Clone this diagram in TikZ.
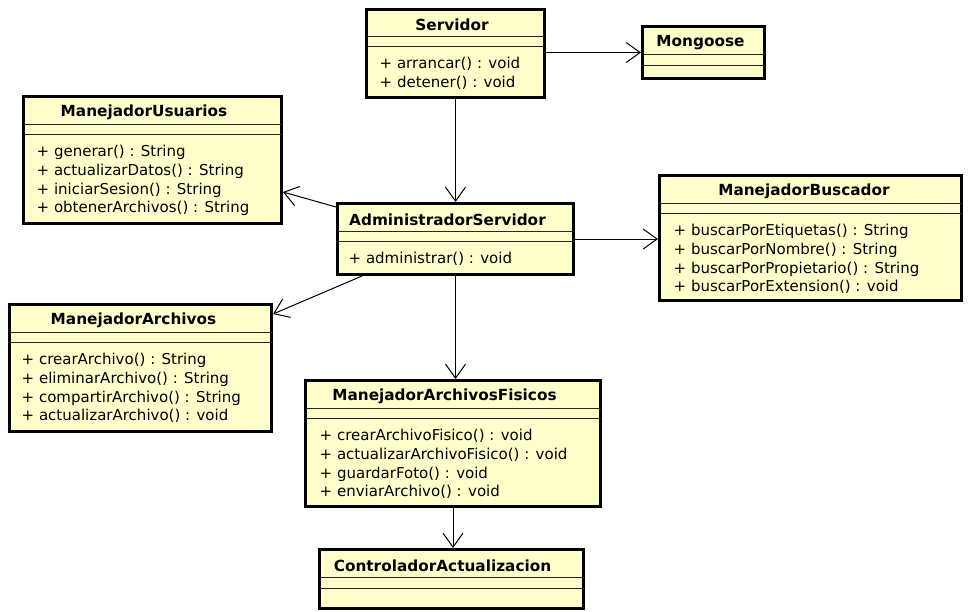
\documentclass[tikz,border=0pt]{standalone}
\usepackage{fontspec}
\setmainfont{DejaVu Sans}
\usetikzlibrary{arrows.meta,calc}
\definecolor{clsfill}{HTML}{FFFFCC}
\tikzset{
  cls/.style={draw=black, line width=3pt, fill=clsfill, inner sep=0pt},
  sepline/.style={draw=black!85, line width=1pt},
  ttl/.style={font=\fontsize{15.3}{18}\selectfont\bfseries, inner sep=0pt, yshift=-2.5pt},
  op/.style={font=\fontsize{15}{18}\selectfont, inner sep=0pt, anchor=mid west, yshift=-3.5pt},
  dep/.style={draw=black, line width=1pt, -{Straight Barb[length=14pt,width=20pt]}},
}
\newcommand\umlbox[7]{%
  \node[cls, minimum width={(#4-#2-3)*1pt}, minimum height={(#5-#3-3)*1pt}] (#1) at ({(#2+#4)/2},{(#3+#5)/2}) {};
  \draw[sepline] ({#2+1.5},#6) -- ({#4-1.5},#6);
  \draw[sepline] ({#2+1.5},#7) -- ({#4-1.5},#7);
}
\begin{document}
\begin{tikzpicture}[x=1pt,y={(0pt,-1pt)}]
\useasboundingbox (0,0) rectangle (972,611);

% Servidor
\umlbox{serv}{365}{8}{546}{99}{36}{46}
\node[ttl] (servT) at (452,22) {Servidor};
\node[op] (servO1) at (379.5,62) {+ arrancar() : void};
\node[op] (servO2) at (379.5,81) {+ detener() : void};

% Mongoose
\umlbox{mong}{641}{25}{766}{80}{54}{65}
\node[ttl] (mongT) at (700.5,40) {Mongoose};

% ManejadorUsuarios
\umlbox{usu}{22}{95}{283}{225}{124}{134}
\node[ttl] (usuT) at (144,110) {ManejadorUsuarios};
\node[op] (usuO1) at (36.5,150) {+ generar() : String};
\node[op] (usuO2) at (36.5,169) {+ actualizarDatos() : String};
\node[op] (usuO3) at (36.5,188) {+ iniciarSesion() : String};
\node[op] (usuO4) at (36.5,206) {+ obtenerArchivos() : String};

% AdministradorServidor
\umlbox{admin}{336}{202}{575}{276}{231}{241}
\node[ttl] (adminT) at (447.5,217) {AdministradorServidor};
\node[op] (adminO1) at (348.5,257) {+ administrar() : void};

% ManejadorBuscador
\umlbox{busc}{658}{174}{963}{302}{203}{213}
\node[ttl] (buscT) at (804,189) {ManejadorBuscador};
\node[op] (buscO1) at (673.5,229) {+ buscarPorEtiquetas() : String};
\node[op] (buscO2) at (673.5,248) {+ buscarPorNombre() : String};
\node[op] (buscO3) at (673.5,267) {+ buscarPorPropietario() : String};
\node[op] (buscO4) at (673.5,285) {+ buscarPorExtension() : void};

% ManejadorArchivos
\umlbox{arch}{8}{303}{273}{433}{332}{342}
\node[ttl] (archT) at (133.5,318) {ManejadorArchivos};
\node[op] (archO1) at (21.5,358) {+ crearArchivo() : String};
\node[op] (archO2) at (21.5,377) {+ eliminarArchivo() : String};
\node[op] (archO3) at (21.5,396) {+ compartirArchivo() : String};
\node[op] (archO4) at (21.5,414) {+ actualizarArchivo() : void};

% ManejadorArchivosFisicos
\umlbox{fis}{304}{379}{602}{508}{408}{418}
\node[ttl] (fisT) at (444.5,394) {ManejadorArchivosFisicos};
\node[op] (fisO1) at (319.5,434) {+ crearArchivoFisico() : void};
\node[op] (fisO2) at (319.5,453) {+ actualizarArchivoFisico() : void};
\node[op] (fisO3) at (319.5,472) {+ guardarFoto() : void};
\node[op] (fisO4) at (319.5,490) {+ enviarArchivo() : void};

% ControladorActualizacion
\umlbox{ctrl}{318}{548}{585}{610}{577}{588}
\node[ttl] (ctrlT) at (442.5,563) {ControladorActualizacion};

% connectors
\draw[dep] (serv.east |- mong.west) -- (mong.west);
\draw[dep] (serv.south) -- (admin.north);
\draw[dep] ($(admin.north west)+(0,5)$) -- ($(usu.north east)+(0,97)$);
\draw[dep] (admin.east) -- (busc.west |- admin.east);
\draw[dep] ($(admin.south west)+(26,0)$) -- ($(arch.north east)+(0,11)$);
\draw[dep] (admin.south) -- (admin.south |- fis.north);
\draw[dep] (fis.south) -- (fis.south |- ctrl.north);
\end{tikzpicture}
\end{document}
